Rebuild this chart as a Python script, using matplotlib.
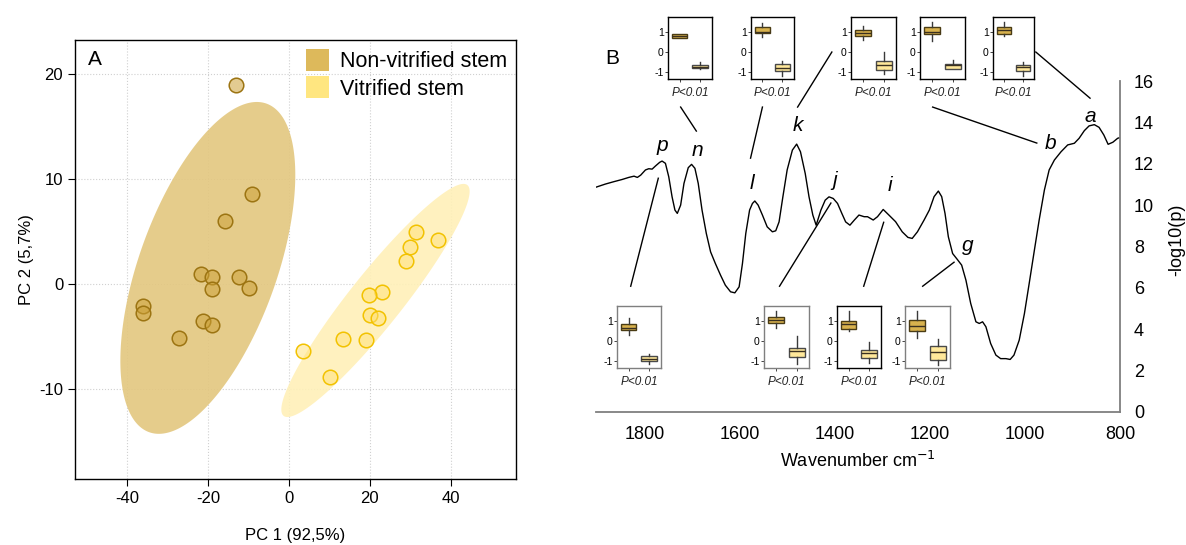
import matplotlib.pyplot as plt
import numpy as np
from matplotlib.patches import Patch

plt.rcParams['font.family'] = ['Liberation Sans', 'DejaVu Sans']
plt.rcParams['axes.unicode_minus'] = False

# PCA scores
nonvit_pc1 = [-13.1, -9.2, -15.7, -21.8, -18.9, -12.3, -19.0, -9.8, -36.1, -36.1, -21.3, -18.9, -27.1]
nonvit_pc2 = [18.9, 8.5, 6.0, 0.95, 0.6, 0.6, -0.5, -0.4, -2.1, -2.8, -3.6, -3.9, -5.2]
vit_pc1 = [31.4, 36.8, 30.0, 29.0, 23.0, 19.9, 20.1, 22.1, 13.4, 19.1, 3.6, 10.2]
vit_pc2 = [4.95, 4.2, 3.5, 2.2, -0.8, -1.1, -3.0, -3.3, -5.3, -5.4, -6.4, -8.9]

# confidence ellipses: centre x, centre y, sd x, sd y, correlation
nonvit_ellipse = [-20.0, 1.5, 21.6, 15.8, 0.56]
vit_ellipse = [21.4, -1.6, 23.25, 11.1, 0.935]

# -log10(p) along the spectrum
wavenumber = [1903, 1882, 1865, 1847, 1833, 1822, 1815, 1808, 1798, 1791, 1784, 1777, 1768,
              1763, 1756, 1749, 1742, 1736, 1731, 1724, 1717, 1708, 1701, 1694, 1687, 1679,
              1670, 1661, 1651, 1640, 1630, 1619, 1610, 1601, 1594, 1587, 1579, 1573, 1568,
              1561, 1552, 1542, 1531, 1524, 1517, 1509, 1500, 1489, 1480, 1472, 1462, 1454,
              1446, 1439, 1429, 1420, 1412, 1403, 1394, 1385, 1377, 1368, 1359, 1349, 1338,
              1331, 1319, 1310, 1298, 1286, 1272, 1258, 1246, 1237, 1226, 1212, 1201, 1191,
              1182, 1175, 1168, 1161, 1152, 1142, 1133, 1124, 1114, 1103, 1096, 1089, 1082,
              1072, 1061, 1051, 1040, 1031, 1023, 1012, 1001, 991, 980, 970, 959, 949, 938,
              924, 910, 896, 886, 875, 865, 854, 844, 834, 825, 815, 805, 798]
neglogp = [10.86, 11.02, 11.13, 11.24, 11.34, 11.4, 11.34, 11.45, 11.7, 11.76, 11.74, 11.89, 12.07,
           12.13, 12.02, 11.37, 10.4, 9.76, 9.6, 10.0, 11.05, 11.81, 11.97, 11.78, 11.05, 9.76,
           8.63, 7.74, 7.18, 6.61, 6.13, 5.81, 5.76, 6.05, 7.18, 8.63, 9.76, 10.08, 10.2,
           10.0, 9.52, 8.95, 8.71, 8.76, 9.19, 10.4, 11.7, 12.66, 12.95, 12.58, 11.53, 10.4,
           9.52, 9.03, 9.76, 10.24, 10.4, 10.32, 10.08, 9.6, 9.19, 9.03, 9.27, 9.52, 9.44,
           9.44, 9.28, 9.44, 9.79, 9.52, 9.2, 8.71, 8.44, 8.39, 8.71, 9.28, 9.76, 10.41,
           10.68, 10.41, 9.6, 8.47, 7.66, 7.37, 7.1, 6.37, 5.25, 4.36, 4.28, 4.36, 4.12,
           3.31, 2.75, 2.58, 2.58, 2.54, 2.75, 3.47, 4.76, 6.21, 7.83, 9.28, 10.73, 11.7, 12.18,
           12.58, 12.91, 12.99, 13.23, 13.6, 13.83, 13.89, 13.76, 13.39, 12.94, 13.04, 13.23, 13.28]

# band letters and where they sit (wavenumber, -log10 p)
band_labels = ['p', 'n', 'l', 'k', 'j', 'i', 'g', 'b', 'a']
band_x = [1762, 1688, 1573, 1478, 1400, 1284, 1120, 947, 863]
band_y = [12.9, 12.66, 11.06, 13.87, 11.2, 10.97, 8.06, 13.0, 14.3]

# scaled intensity per band: whislo, q1, median, q3, whishi
box_nonvit = {
    'n': [0.68, 0.72, 0.8, 0.88, 0.9],
    'l': [0.75, 0.95, 1.0, 1.25, 1.45],
    'k': [0.6, 0.8, 0.95, 1.1, 1.3],
    'b': [0.55, 0.9, 1.0, 1.25, 1.5],
    'a': [0.8, 0.9, 1.1, 1.25, 1.5],
    'p': [0.3, 0.55, 0.65, 0.85, 1.15],
    'j': [0.65, 0.9, 1.05, 1.2, 1.5],
    'i': [0.5, 0.6, 0.85, 1.0, 1.5],
    'g': [0.15, 0.5, 0.75, 1.05, 1.5],
}
box_vit = {
    'n': [-0.85, -0.8, -0.72, -0.65, -0.5],
    'l': [-1.2, -0.95, -0.8, -0.6, -0.45],
    'k': [-1.1, -0.9, -0.65, -0.45, 0.0],
    'b': [-0.85, -0.82, -0.65, -0.6, -0.4],
    'a': [-1.2, -0.92, -0.75, -0.62, -0.5],
    'p': [-1.15, -1.0, -0.88, -0.72, -0.65],
    'j': [-1.15, -0.8, -0.5, -0.35, 0.25],
    'i': [-1.1, -0.85, -0.6, -0.45, -0.05],
    'g': [-1.2, -0.95, -0.55, -0.25, 0.1],
}

# inset frames in pixels: left, top, right, bottom
inset_px = {
    'n': (668, 17, 712, 79), 'l': (751, 17, 794, 79), 'k': (851, 17, 896, 79),
    'b': (920, 17, 965, 79), 'a': (993, 17, 1034, 79),
    'p': (617, 306, 661, 368), 'j': (764, 306, 809, 368),
    'i': (837, 306, 881, 368), 'g': (905, 306, 950, 368),
}
inset_edge = {'n': 'black', 'l': 'black', 'k': 'black', 'b': 'black', 'a': 'black',
              'p': '#7f7f7f', 'j': '#7f7f7f', 'i': 'black', 'g': '#7f7f7f'}

# leader lines from each inset to its band (wavenumber, -log10 p)
leaders = {
    'n': [(1724, 14.74), (1691, 13.58)],
    'l': [(1552, 14.74), (1577, 12.27)],
    'k': [(1406, 17.4), (1478, 14.74)],
    'b': [(1194, 14.74), (975, 13.0)],
    'a': [(977, 17.4), (863, 15.17)],
    'p': [(1829, 6.08), (1771, 11.3)],
    'j': [(1516, 6.08), (1408, 10.1)],
    'i': [(1339, 6.08), (1297, 9.17)],
    'g': [(1215, 6.08), (1149, 7.24)],
}

W, H = 1186, 545
fig = plt.figure(figsize=(W / 100, H / 100), dpi=100)


def px_rect(l, t, r, b):
    return [l / W, 1 - b / H, (r - l) / W, (b - t) / H]


# ---------- panel A: PCA ----------
ax = fig.add_axes(px_rect(75, 40, 516, 479))


def ellipse_xy(cx, cy, sx, sy, rho):
    t = np.linspace(0, 2 * np.pi, 300)
    x = cx + sx * np.cos(t)
    y = cy + sy * (rho * np.cos(t) + np.sqrt(1 - rho ** 2) * np.sin(t))
    return x, y


ex, ey = ellipse_xy(*nonvit_ellipse)
ax.fill(ex, ey, color='#E3C77F', lw=0, alpha=0.9, zorder=1)
ex, ey = ellipse_xy(*vit_ellipse)
ax.fill(ex, ey, color='#FFF0B8', lw=0, alpha=0.9, zorder=1)

ax.scatter(nonvit_pc1, nonvit_pc2, s=110, facecolor=(0.80, 0.63, 0.22, 0.55),
           edgecolor='#9C7412', linewidth=1.1, zorder=3)
ax.scatter(vit_pc1, vit_pc2, s=110, facecolor=(1.0, 0.88, 0.45, 0.5),
           edgecolor='#F2C200', linewidth=1.1, zorder=3)

ax.set_xlim(-52.8, 56.1)
ax.set_ylim(-18.6, 23.2)
ax.set_xticks([-40, -20, 0, 20, 40])
ax.set_yticks([-10, 0, 10, 20])
ax.grid(color='#d0d0d0', linestyle=':', linewidth=0.8, zorder=0)
ax.set_axisbelow(True)
ax.tick_params(direction='out', length=5, labelsize=12, color='black')
for s in ax.spines.values():
    s.set_linewidth(1.0)
ax.set_xlabel('PC 1 (92,5%)', fontsize=12, labelpad=16)
ax.set_ylabel('PC 2 (5,7%)', fontsize=12, labelpad=4)
ax.text(0.03, 0.955, 'A', transform=ax.transAxes, fontsize=15, ha='left', va='center')

handles = [Patch(facecolor='#DDB95B', edgecolor='none', label='Non-vitrified stem'),
           Patch(facecolor='#FFE680', edgecolor='none', label='Vitrified stem')]
ax.legend(handles=handles, loc='upper right', frameon=False, fontsize=15.5,
          handlelength=1.1, handleheight=1.2, handletextpad=0.5, labelspacing=0.2,
          borderaxespad=0.1, borderpad=0.3)

# ---------- panel B: spectrum ----------
ax2 = fig.add_axes(px_rect(596, 81, 1120, 412))
ax2.plot(wavenumber, neglogp, color='black', lw=1.0)
ax2.set_xlim(1902, 800)
ax2.set_ylim(0, 16)
ax2.set_xticks([1800, 1600, 1400, 1200, 1000, 800])
ax2.set_yticks(np.arange(0, 17, 2))
for side in ['top', 'left']:
    ax2.spines[side].set_visible(False)
for side in ['bottom', 'right']:
    ax2.spines[side].set_color('#7f7f7f')
    ax2.spines[side].set_linewidth(1.3)
ax2.yaxis.tick_right()
ax2.tick_params(length=0, labelsize=13, pad=10)
ax2.set_xlabel('Wavenumber cm$^{\\mathrm{-1}}$', fontsize=13, labelpad=6)
ax2.text(1.109, 0.52, '-log10(p)', transform=ax2.transAxes, rotation=90,
         ha='center', va='center', fontsize=13)
fig.text(612 / W, 1 - 58 / H, 'B', fontsize=15, ha='center', va='center')

for lab, x, y in zip(band_labels, band_x, band_y):
    ax2.text(x, y, lab, fontsize=15, style='italic', ha='center', va='center')

for lab, (p0, p1) in leaders.items():
    ax2.plot([p0[0], p1[0]], [p0[1], p1[1]], color='black', lw=1.0, clip_on=False)

# ---------- boxplot insets ----------
for lab, rect in inset_px.items():
    iax = fig.add_axes(px_rect(*rect))
    stats = []
    for vals in (box_nonvit[lab], box_vit[lab]):
        lo, q1, med, q3, hi = vals
        stats.append(dict(whislo=lo, q1=q1, med=med, q3=q3, whishi=hi, fliers=[]))
    bp = iax.bxp(stats, positions=[1, 2], widths=0.75, patch_artist=True,
                 showcaps=False,
                 medianprops=dict(color='#3a3020', lw=1.0),
                 whiskerprops=dict(color='#3a3a3a', lw=1.0),
                 boxprops=dict(lw=1.0))
    bp['boxes'][0].set(facecolor='#D8B24E', edgecolor='#4a3c14')
    bp['boxes'][1].set(facecolor='#FFE89A', edgecolor='#4a4a4a')
    iax.set_xlim(0.44, 2.58)
    iax.set_ylim(-1.33, 1.74)
    iax.set_yticks([-1, 0, 1])
    iax.set_xticks([1, 2])
    iax.set_xticklabels(['', ''])
    iax.tick_params(length=2, width=0.7, labelsize=7.5, pad=1, color='#444444')
    for s in iax.spines.values():
        s.set_color(inset_edge[lab])
        s.set_linewidth(1.0)
    iax.text(0.5, -0.22, 'P<0.01', transform=iax.transAxes, style='italic',
             fontsize=8.5, ha='center', va='center', color='#222222')

fig.savefig('out.png', dpi=100)
